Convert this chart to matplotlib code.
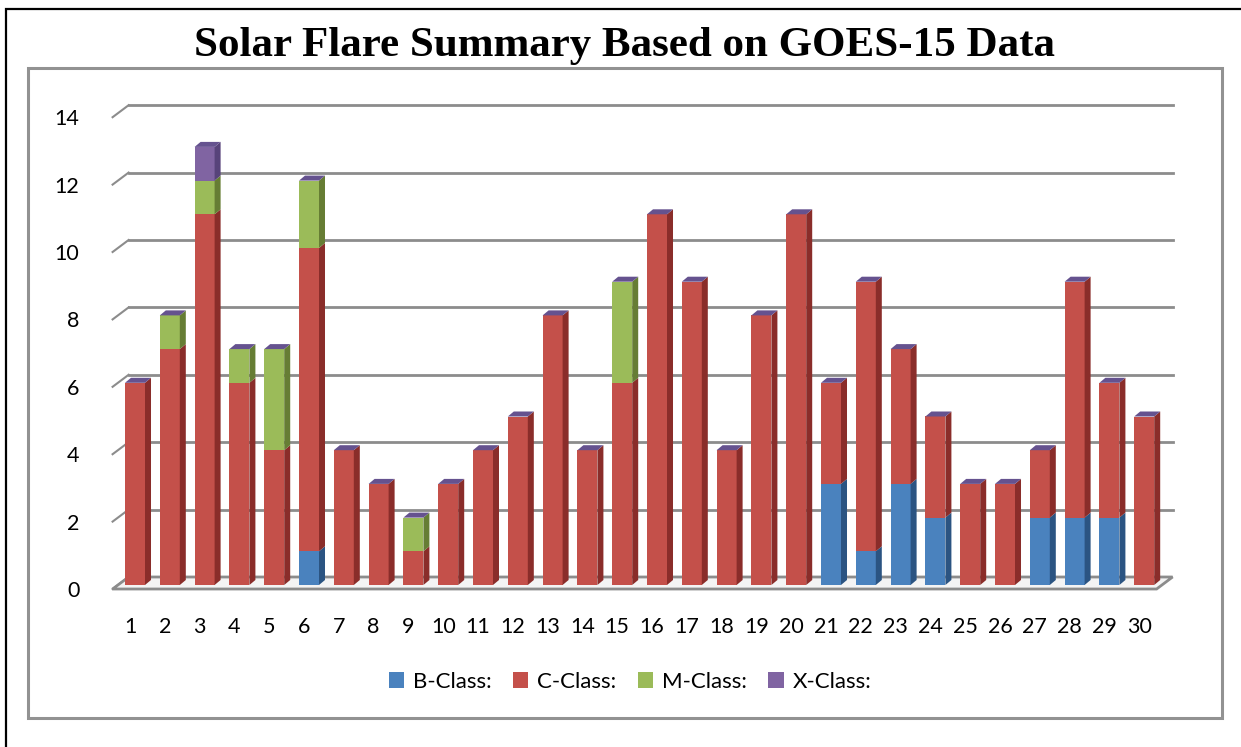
import numpy as np
import matplotlib
matplotlib.use('Agg')
import matplotlib.pyplot as plt
from matplotlib.patches import Polygon, Rectangle
from matplotlib.transforms import offset_copy, IdentityTransform, ScaledTranslation

plt.rcParams['font.family'] = ['Lato', 'DejaVu Sans']

# 每日耀斑数量 (GOES-15)
days = list(range(1, 31))
b_class = [0, 0, 0, 0, 0, 1, 0, 0, 0, 0, 0, 0, 0, 0, 0, 0, 0, 0, 0, 0, 3, 1, 3, 2, 0, 0, 2, 2, 2, 0]
c_class = [6, 7, 11, 6, 4, 9, 4, 3, 1, 3, 4, 5, 8, 4, 6, 11, 9, 4, 8, 11, 3, 8, 4, 3, 3, 3, 2, 7, 4, 5]
m_class = [0, 1, 1, 1, 3, 2, 0, 0, 1, 0, 0, 0, 0, 0, 3, 0, 0, 0, 0, 0, 0, 0, 0, 0, 0, 0, 0, 0, 0, 0]
x_class = [0, 0, 1, 0, 0, 0, 0, 0, 0, 0, 0, 0, 0, 0, 0, 0, 0, 0, 0, 0, 0, 0, 0, 0, 0, 0, 0, 0, 0, 0]
series_names = ['B-Class:', 'C-Class:', 'M-Class:', 'X-Class:']
y_ticks = [0, 2, 4, 6, 8, 10, 12, 14]

face_colors = ['#4A82BE', '#C4504A', '#9BBB59', '#8064A2']
side_colors = ['#2B5482', '#8A2D2A', '#667D34', '#57437A']
top_color = '#65528F'

W, H = 1241, 747
fig = plt.figure(figsize=(W / 100, H / 100), dpi=100)

# 外框 (黑) 和图表区框 (灰)
fig.patches.append(Rectangle((6 / W, -0.1), 1.2, (747 - 9) / H + 0.1, transform=fig.transFigure,
                             fill=False, edgecolor='black', linewidth=1.6))
fig.patches.append(Rectangle((28 / W, 1 - 718 / H), (1222 - 28) / W, (718 - 68) / H,
                             transform=fig.transFigure, fill=False, edgecolor='#929292', linewidth=2.2))

fig.text(625 / W, 1 - 46 / H, 'Solar Flare Summary Based on GOES-15 Data', ha='center', va='center',
         fontsize=31, fontweight='bold', family='Liberation Serif')

ax = fig.add_axes([117.6 / W, 1 - 585 / H, 1044 / W, 471.8 / H])
ax.set_xlim(0.5, 30.5)
ax.set_ylim(0, 14)
for s in ax.spines.values():
    s.set_visible(False)
ax.patch.set_visible(False)

x = np.array(days)
bar_w = 0.575
ddx = 6 / 34.8   # 侧面深度 (数据单位)
ddy = 5 / 33.7

back = offset_copy(ax.transData, fig=fig, x=11, y=8, units='dots')
front = offset_copy(ax.transData, fig=fig, x=-5, y=-4, units='dots')
grid_col = '#8C8C8C'
ident = IdentityTransform()

# 背景网格线和左侧斜线
for t in y_ticks[1:]:
    ax.plot([0.5, 30.5], [t, t], color=grid_col, lw=2, transform=back, zorder=1, clip_on=False)
for t in y_ticks:
    xb, yb = back.transform((0.5, t))
    xf, yf = front.transform((0.5, t))
    ax.add_line(plt.Line2D([xf, xb], [yf, yb], color=grid_col, lw=1.5, transform=ident,
                           zorder=1, clip_on=False))

# 底板
p0 = front.transform((0.5, 0)); p1 = front.transform((30.5, 0))
p2 = back.transform((30.5, 0)); p3 = back.transform((0.5, 0))
ax.add_patch(Polygon([p0, p1, p2, p3], closed=True, facecolor='#F4F4F4', edgecolor=grid_col,
                     lw=2, transform=ident, zorder=1, clip_on=False))

# 堆叠柱 + 3D 侧面/顶面
series = [b_class, c_class, m_class, x_class]
bottom = np.zeros(len(days))
for vals, name, fc, sc in zip(series, series_names, face_colors, side_colors):
    vals = np.array(vals, dtype=float)
    ax.bar(x, vals, bar_w, bottom=bottom, color=fc, label=name, zorder=3, linewidth=0)
    for xi, b0, v in zip(x, bottom, vals):
        if v <= 0:
            continue
        r = xi + bar_w / 2
        ax.add_patch(Polygon([(r, b0), (r + ddx, b0 + ddy), (r + ddx, b0 + v + ddy), (r, b0 + v)],
                             closed=True, facecolor=sc, edgecolor='none', zorder=3, clip_on=False))
    bottom = bottom + vals

for xi, top in zip(x, bottom):
    l, r = xi - bar_w / 2, xi + bar_w / 2
    ax.add_patch(Polygon([(l, top), (r, top), (r + ddx, top + ddy), (l + ddx, top + ddy)],
                         closed=True, facecolor=top_color, edgecolor='none', zorder=3, clip_on=False))

ax.set_xticks(x)
ax.set_xticklabels([str(d) for d in days], fontsize=15.5)
ax.set_yticks(y_ticks)
ax.set_yticklabels([str(t) for t in y_ticks], fontsize=15.5)
ax.tick_params(axis='both', length=0)
ax.tick_params(axis='x', pad=20)
ax.tick_params(axis='y', pad=24)

# 刻度标签对齐到前平面
shift = ScaledTranslation(-5 / 100, -4 / 100, fig.dpi_scale_trans)
for lab in ax.get_xticklabels() + ax.get_yticklabels():
    lab.set_transform(lab.get_transform() + shift)

handles, labels = ax.get_legend_handles_labels()
fig.legend(handles, labels, loc='center', bbox_to_anchor=(630 / W, 1 - 682 / H), ncol=4,
           frameon=False, fontsize=16, handlelength=0.7, handleheight=0.7,
           handletextpad=0.4, columnspacing=0.95)

plt.savefig('out.png', dpi=100)
plt.close()
